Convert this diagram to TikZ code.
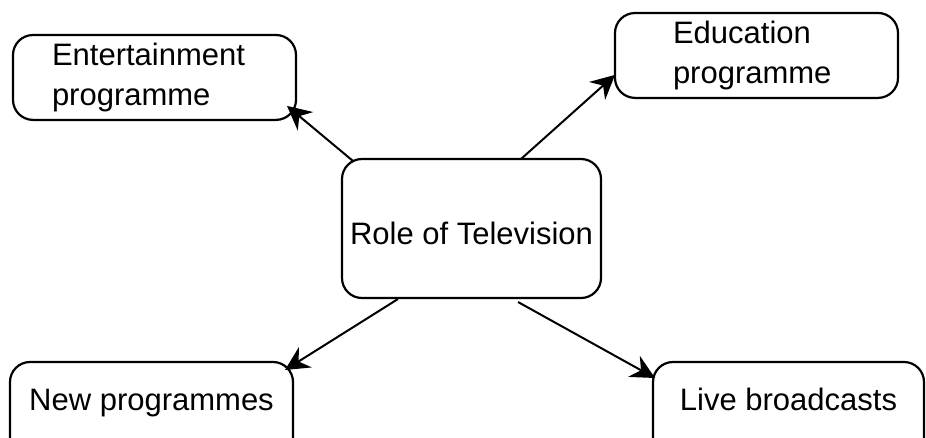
\documentclass[tikz,border=0pt]{standalone}
\usepackage{fontspec}
\setmainfont{Liberation Sans}
\usetikzlibrary{arrows.meta}

\begin{document}
\begin{tikzpicture}[x=1pt,y=-1pt,
    >={Stealth[length=24pt,width=24pt,inset=8pt]},
    topic/.style={
% The shape:
rectangle, rounded corners=20pt,
% The text:
font=\fontsize{31}{40}\selectfont, outer sep=0pt,
% The border:
line width=2.2pt, draw,
},
    leaf/.style={
% The shape:
topic, anchor=north west,
% The size:
minimum width=283pt, inner ysep=8pt, align=left,
},
    bottom/.style={
% The shape:
topic, anchor=north west,
% The size:
inner sep=0pt, text height=48pt, text depth=62pt,
},
    link/.style={line width=2pt},
]
  \useasboundingbox (0,0) rectangle (926,437);
  \node[topic, anchor=north, inner sep=0pt, minimum width=259pt,
        text height=85pt, text depth=54pt] (role) at (471.5,159) {Role of Television};
  \node[leaf, inner xsep=39pt, text width=205pt] (ent) at (13,35) {Entertainment\\programme};
  \node[leaf, inner xsep=58pt, text width=167pt] (edu) at (615,13) {Education\\programme};
  \node[bottom, minimum width=283pt] (news) at (10,362) {New programmes};
  \node[bottom, minimum width=271pt] (live) at (653,362) {Live broadcasts};
  \draw [->, link] ([shift={(11,2)}]role.north west) -- ([shift={(-9,-14)}]ent.south east);
  \draw [->, link] ([shift={(49.5,0)}]role.north) -- ([shift={(0,-23)}]edu.south west);
  \draw [->, link] ([shift={(-73.5,1)}]role.south) -- ([shift={(-8,8)}]news.north east);
  \draw [->, link] ([shift={(46.5,4)}]role.south) -- ([shift={(2,16)}]live.north west);

\end{tikzpicture}
\end{document}
